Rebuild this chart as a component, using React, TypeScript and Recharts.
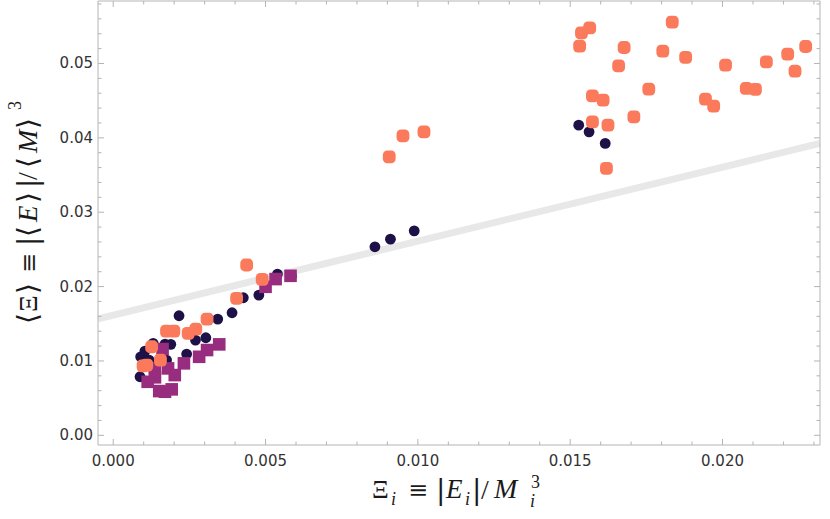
import React from 'react';
import { ScatterChart, Scatter, XAxis, YAxis, ReferenceLine } from 'recharts';

// dark navy circles
const darkX = [0.00088, 0.0009, 0.00104, 0.00118, 0.00131, 0.0017, 0.00175, 0.00189, 0.00216, 0.00241, 0.0027, 0.00304, 0.00343, 0.0039, 0.00427, 0.00478, 0.00539, 0.00585, 0.00859, 0.0091, 0.00988, 0.01528, 0.01562, 0.01615];
const darkY = [0.00788, 0.01056, 0.01133, 0.01012, 0.01237, 0.01227, 0.01012, 0.01223, 0.01608, 0.01093, 0.01281, 0.01312, 0.01563, 0.01648, 0.0185, 0.01886, 0.02168, 0.0214, 0.02535, 0.02638, 0.0275, 0.04171, 0.04081, 0.03925];

// purple squares
const purpleX = [0.00113, 0.00137, 0.00137, 0.00151, 0.00162, 0.0017, 0.0018, 0.00192, 0.00202, 0.00232, 0.00282, 0.00308, 0.00348, 0.005, 0.00533, 0.00582];
const purpleY = [0.0072, 0.0078, 0.009, 0.00595, 0.0116, 0.00586, 0.009, 0.00618, 0.0081, 0.00968, 0.01056, 0.01147, 0.01223, 0.01997, 0.02101, 0.02145];

// coral rounded markers
const coralX = [0.00098, 0.0011, 0.00126, 0.00155, 0.00175, 0.00199, 0.00246, 0.00271, 0.00308, 0.00405, 0.00438, 0.00489,
  0.00906, 0.00951, 0.0102,
  0.01564, 0.01537, 0.01531, 0.01677, 0.01659, 0.01835, 0.01804, 0.01879, 0.0201, 0.02144, 0.02214, 0.02273, 0.02238,
  0.01758, 0.02078, 0.02108, 0.01944, 0.01971, 0.01573, 0.01608, 0.01709, 0.01573, 0.01624, 0.01619];
const coralY = [0.00935, 0.00945, 0.01191, 0.01012, 0.01402, 0.01402, 0.01371, 0.01429, 0.01563, 0.01841, 0.0229, 0.02097,
  0.03745, 0.04027, 0.04081,
  0.05479, 0.05412, 0.05233, 0.05215, 0.04968, 0.05555, 0.05165, 0.05081, 0.04977, 0.05022, 0.05125, 0.05228, 0.04896,
  0.04655, 0.04664, 0.04651, 0.0452, 0.04426, 0.04565, 0.04507, 0.04282, 0.04215, 0.04171, 0.03589];

// grey fit line end points
const fitX = [-0.0005, 0.0232];
const fitY = [0.01566, 0.03925];

const xMajor = [0, 0.005, 0.01, 0.015, 0.02];
const yMajor = [0, 0.01, 0.02, 0.03, 0.04, 0.05];
const xMinor = Array.from({ length: 24 }, (_, i) => +(i * 0.001).toFixed(3));
const yMinor = Array.from({ length: 30 }, (_, i) => +(i * 0.002).toFixed(3));

const xDomain: [number, number] = [-0.0005, 0.0232];
const yDomain: [number, number] = [-0.0013, 0.0584];

const toPts = (xs: number[], ys: number[]) => xs.map((x, i) => ({ x, y: ys[i] }));
const darkData = toPts(darkX, darkY);
const purpleData = toPts(purpleX, purpleY);
const coralData = toPts(coralX, coralY);

const FRAME = '#b4b4b4';
const LABEL = '#333333';
const TICK_FONT = '"DejaVu Sans", sans-serif';
const MATH_FONT = '"Liberation Serif", "DejaVu Serif", serif';
const SYM_FONT = '"DejaVu Serif", serif';

const isMajor = (v: number, majors: number[]) => majors.some((m) => Math.abs(m - v) < 1e-9);

const makeTick = (side: 'bottom' | 'top' | 'left' | 'right', majors: number[], digits: number) => (props: any) => {
  const { x, y, payload } = props;
  const v = payload.value;
  const major = isMajor(v, majors);
  const len = major ? 6 : 3.5;
  let line;
  if (side === 'bottom') line = <line x1={x} y1={y} x2={x} y2={y - len} stroke={FRAME} />;
  else if (side === 'top') line = <line x1={x} y1={y} x2={x} y2={y + len} stroke={FRAME} />;
  else if (side === 'left') line = <line x1={x} y1={y} x2={x + len} y2={y} stroke={FRAME} />;
  else line = <line x1={x} y1={y} x2={x - len} y2={y} stroke={FRAME} />;
  let label = null;
  if (major && side === 'bottom') {
    label = (
      <text x={x} y={y + 21} textAnchor="middle" fontSize={15} fontFamily={TICK_FONT} fill={LABEL}>
        {v.toFixed(digits)}
      </text>
    );
  } else if (major && side === 'left') {
    label = (
      <text x={x - 5} y={y + 5} textAnchor="end" fontSize={15} fontFamily={TICK_FONT} fill={LABEL}>
        {v.toFixed(digits)}
      </text>
    );
  }
  return (
    <g>
      {line}
      {label}
    </g>
  );
};

const DarkDot = (props: any) => <circle cx={props.cx} cy={props.cy} r={5.4} fill="#1d1147" />;
const PurpleSquare = (props: any) => (
  <rect x={props.cx - 6.3} y={props.cy - 6.3} width={12.6} height={12.6} fill="#982d80" />
);
const CoralDot = (props: any) => (
  <rect x={props.cx - 6.4} y={props.cy - 6.4} width={12.8} height={12.8} rx={4.5} fill="#fb7a5c" />
);

const axisCommon = {
  type: 'number' as const,
  allowDataOverflow: true,
  tickSize: 0,
  tickMargin: 0,
  interval: 0 as const,
  axisLine: { stroke: FRAME },
  tickLine: false,
};

export default function App() {
  return (
    <div style={{ position: 'absolute', left: 0, top: 0, width: 830, height: 519, background: '#fff' }}>
      <ScatterChart width={830} height={519} margin={{ top: 0, right: 9, bottom: 0, left: 0 }}>
        <XAxis {...axisCommon} dataKey="x" xAxisId="b" orientation="bottom" height={74} domain={xDomain} ticks={xMinor} tick={makeTick('bottom', xMajor, 3)} />
        <XAxis {...axisCommon} dataKey="x" xAxisId="t" orientation="top" height={1} domain={xDomain} ticks={xMinor} tick={makeTick('top', xMajor, 3)} />
        <YAxis {...axisCommon} dataKey="y" yAxisId="l" orientation="left" width={98} domain={yDomain} ticks={yMinor} tick={makeTick('left', yMajor, 2)} />
        <YAxis {...axisCommon} dataKey="y" yAxisId="r" orientation="right" width={1} domain={yDomain} ticks={yMinor} tick={makeTick('right', yMajor, 2)} />
        <ReferenceLine
          xAxisId="b"
          yAxisId="l"
          segment={[{ x: fitX[0], y: fitY[0] }, { x: fitX[1], y: fitY[1] }]}
          stroke="#e8e8e8"
          strokeWidth={7}
          ifOverflow="visible"
        />
        <Scatter xAxisId="b" yAxisId="l" data={darkData} shape={DarkDot} isAnimationActive={false} />
        <Scatter xAxisId="b" yAxisId="l" data={purpleData} shape={PurpleSquare} isAnimationActive={false} />
        <Scatter xAxisId="b" yAxisId="l" data={coralData} shape={CoralDot} isAnimationActive={false} />
      </ScatterChart>
      <svg width={830} height={519} style={{ position: 'absolute', left: 0, top: 0, pointerEvents: 'none' }}>
        {/* x axis title: Ξ_i ≡ |E_i|/M_i^3 */}
        <text fontSize={26} fontFamily={MATH_FONT} fill="#1a1a1a">
          <tspan x={372} y={498}>Ξ</tspan>
          <tspan x={391} y={505} fontStyle="italic" fontSize={18}>i</tspan>
          <tspan x={408} y={498} fontFamily={SYM_FONT} fontSize={24}>≡</tspan>
          <tspan x={436} y={499} fontFamily={SYM_FONT} fontSize={28}>|</tspan>
          <tspan x={446} y={498} fontStyle="italic" fontSize={27}>E</tspan>
          <tspan x={465} y={505} fontStyle="italic" fontSize={18}>i</tspan>
          <tspan x={472} y={499} fontFamily={SYM_FONT} fontSize={28}>|</tspan>
          <tspan x={481} y={499} fontSize={28}>/</tspan>
          <tspan x={494} y={498} fontStyle="italic" fontSize={28}>M</tspan>
          <tspan x={531} y={488} fontSize={18}>3</tspan>
          <tspan x={530} y={507} fontStyle="italic" fontSize={18}>i</tspan>
        </text>
        {/* y axis title: ⟨Ξ⟩ ≡ |⟨E⟩|/⟨M⟩^3 */}
        <g transform="translate(37,0) rotate(-90)">
          <text fontSize={26} fontFamily={MATH_FONT} fill="#1a1a1a">
            <tspan x={-324} y={0} fontFamily={SYM_FONT} fontSize={28}>⟨</tspan>
            <tspan x={-312} y={0}>Ξ</tspan>
            <tspan x={-294} y={0} fontFamily={SYM_FONT} fontSize={28}>⟩</tspan>
            <tspan x={-273} y={0} fontFamily={SYM_FONT} fontSize={24}>≡</tspan>
            <tspan x={-246} y={0} fontFamily={SYM_FONT} fontSize={28}>|</tspan>
            <tspan x={-237} y={0} fontFamily={SYM_FONT} fontSize={28}>⟨</tspan>
            <tspan x={-222} y={0} fontStyle="italic" fontSize={27}>E</tspan>
            <tspan x={-203} y={0} fontFamily={SYM_FONT} fontSize={28}>⟩</tspan>
            <tspan x={-188} y={0} fontFamily={SYM_FONT} fontSize={28}>|</tspan>
            <tspan x={-180} y={0} fontSize={28}>/</tspan>
            <tspan x={-168} y={0} fontFamily={SYM_FONT} fontSize={28}>⟨</tspan>
            <tspan x={-153} y={0} fontStyle="italic" fontSize={28}>M</tspan>
            <tspan x={-129} y={0} fontFamily={SYM_FONT} fontSize={28}>⟩</tspan>
            <tspan x={-110} y={-16} fontSize={18}>3</tspan>
          </text>
        </g>
      </svg>
    </div>
  );
}
